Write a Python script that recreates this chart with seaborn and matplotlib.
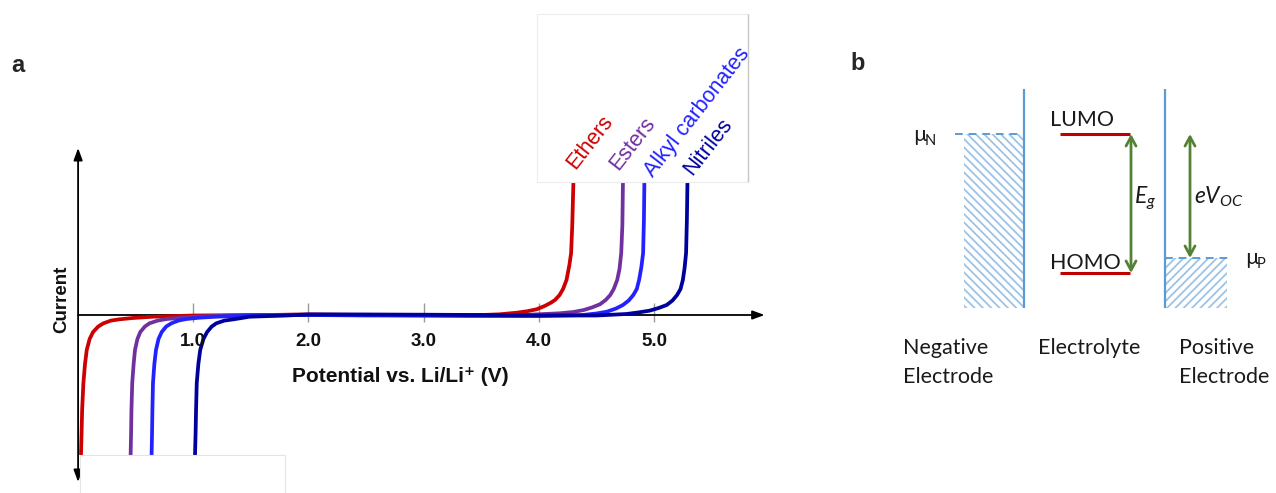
import matplotlib
matplotlib.use("Agg")
import matplotlib.pyplot as plt
import seaborn as sns
import pandas as pd
from matplotlib.patches import Rectangle

# ---------------- data (panel a) ----------------
ethers_V = [0.025, 0.03, 0.035, 0.046, 0.06, 0.075, 0.10, 0.13, 0.175, 0.22, 0.285, 0.36, 0.475, 0.65, 1.0,
            1.6, 2.0, 2.5, 3.0, 3.4,
            3.66, 3.81, 3.90, 3.98, 4.05, 4.10, 4.14, 4.18, 4.21, 4.24, 4.265, 4.28, 4.29, 4.30]
ethers_I = [-14, -11.8, -9.5, -6.8, -4.9, -3.5, -2.4, -1.7, -1.15, -0.83, -0.56, -0.43, -0.3, -0.17, -0.05,
            0.0, 0.05, 0.0, -0.05, -0.05,
            0.07, 0.23, 0.38, 0.57, 0.9, 1.2, 1.5, 2.0, 2.6, 3.5, 5.0, 6.2, 9.0, 13.3]

esters_V = [0.456, 0.46, 0.463, 0.47, 0.482, 0.494, 0.515, 0.54, 0.58, 0.62, 0.69, 0.77, 0.89, 1.03, 1.32,
            1.7, 2.0, 2.5, 3.0, 3.5, 3.9,
            4.18, 4.30, 4.39, 4.46, 4.53, 4.58, 4.62, 4.65, 4.68, 4.70, 4.715, 4.725, 4.73]
esters_I = [-14, -11.8, -9.5, -6.8, -4.9, -3.5, -2.4, -1.7, -1.15, -0.83, -0.56, -0.4, -0.27, -0.17, -0.05,
            0.0, 0.05, 0.02, 0.0, -0.03, 0.02,
            0.17, 0.3, 0.5, 0.75, 1.07, 1.5, 2.0, 2.6, 3.5, 4.6, 6.2, 9.0, 13.3]

alkyl_V = [0.638, 0.642, 0.645, 0.65, 0.662, 0.676, 0.698, 0.726, 0.765, 0.81, 0.87, 0.94, 1.05, 1.2, 1.49,
           1.8, 2.0, 2.5, 3.0, 3.5, 4.0,
           4.38, 4.50, 4.59, 4.67, 4.73, 4.78, 4.82, 4.85, 4.87, 4.89, 4.905, 4.912, 4.916]
alkyl_I = [-14, -11.8, -9.5, -6.8, -4.9, -3.5, -2.4, -1.7, -1.15, -0.83, -0.56, -0.4, -0.27, -0.17, -0.05,
           -0.02, 0.0, -0.05, -0.05, -0.1, -0.1,
           0.0, 0.15, 0.33, 0.65, 1.0, 1.45, 2.0, 2.6, 3.5, 4.8, 6.2, 9.5, 13.3]

nitriles_V = [1.015, 1.02, 1.024, 1.03, 1.044, 1.06, 1.088, 1.12, 1.16, 1.2, 1.27, 1.35, 1.42, 1.49, 1.8,
              2.0, 2.5, 3.0, 3.5, 4.0, 4.5,
              4.76, 4.86, 4.96, 5.04, 5.11, 5.16, 5.20, 5.23, 5.25, 5.265, 5.278, 5.285, 5.29]
nitriles_I = [-14, -11.8, -9.5, -6.8, -4.9, -3.5, -2.4, -1.7, -1.15, -0.83, -0.56, -0.43, -0.3, -0.17, -0.05,
              0.05, 0.05, 0.03, 0.0, -0.05, -0.05,
              0.1, 0.25, 0.43, 0.7, 1.0, 1.45, 2.0, 2.6, 3.5, 4.7, 6.2, 9.5, 13.3]

solvents = ["Ethers", "Esters", "Alkyl carbonates", "Nitriles"]
solvent_colors = ["#cc0000", "#7030a0", "#2222ff", "#00009c"]
label_V = [4.315, 4.689, 4.992, 5.331]
label_I = [14.5, 14.4, 13.7, 13.9]

tick_values = [1.0, 2.0, 3.0, 4.0, 5.0]
tick_labels = ["1.0", "2.0", "3.0", "4.0", "5.0"]

# ---------------- data (panel b, schematic energy levels) ----------------
electrode_top = 219
mu_N_level = 174
lumo_level = 174
homo_level = 35
mu_P_level = 50

# ---------------- styling ----------------
sns.set_theme(style="white")
plt.rcParams["font.family"] = ["Liberation Sans", "DejaVu Sans"]
plt.rcParams["lines.solid_capstyle"] = "butt"
plt.rcParams["lines.solid_joinstyle"] = "round"
plt.rcParams["hatch.linewidth"] = 1.3
plt.rcParams["mathtext.fontset"] = "custom"
plt.rcParams["mathtext.it"] = "Lato:italic"
plt.rcParams["mathtext.rm"] = "Lato"

fig = plt.figure(figsize=(12.76, 4.93), dpi=100)

# ---------------- panel a ----------------
ax = fig.add_axes([0, 0, 800 / 1276, 1])
ax.set_xlim(-0.678, 6.267)
ax.set_ylim(-17.8, 31.5)
ax.axis("off")

frames = []
for name, V, I in zip(solvents,
                      [ethers_V, esters_V, alkyl_V, nitriles_V],
                      [ethers_I, esters_I, alkyl_I, nitriles_I]):
    frames.append(pd.DataFrame({"V": V, "I": I, "solvent": name}))
df = pd.concat(frames, ignore_index=True)

# tick marks
ax.vlines(tick_values, -0.7, 1.2, color="#9a9a9a", lw=1.0, zorder=1)

# axes arrows
ax.annotate("", xy=(0, 16.7), xytext=(0, -16.7),
            arrowprops=dict(arrowstyle="<|-|>,head_length=0.6,head_width=0.22",
                            color="black", lw=1.3, shrinkA=0, shrinkB=0), zorder=2)
ax.annotate("", xy=(5.96, 0), xytext=(0, 0),
            arrowprops=dict(arrowstyle="-|>,head_length=0.6,head_width=0.22",
                            color="black", lw=1.3, shrinkA=0, shrinkB=0), zorder=2)

sns.lineplot(data=df, x="V", y="I", hue="solvent", hue_order=solvents,
             palette=dict(zip(solvents, solvent_colors)), sort=False,
             estimator=None, legend=False, linewidth=2.7, ax=ax, zorder=3)

for t, lab in zip(tick_values, tick_labels):
    ax.text(t, -2.7, lab, ha="center", va="center", fontsize=13.5,
            fontweight="bold", color="#111111")

ax.text(2.794, -6.1, "Potential vs. Li/Li\u207a (V)", ha="center", va="center",
        fontsize=15, fontweight="bold", color="#111111")
ax.text(-0.14, 1.6, "Current", rotation=90, ha="center", va="center",
        fontsize=13.5, fontweight="bold", color="#111111")

# white label boxes
ax.add_patch(Rectangle((3.985, 13.3), 1.83, 16.8, facecolor="white",
                       edgecolor="#ececec", lw=0.8, zorder=4))
ax.plot([5.815, 5.815], [13.3, 30.1], color="#c8c8c8", lw=1.0, zorder=4)
ax.add_patch(Rectangle((0.02, -18.5), 1.78, 4.5, facecolor="white",
                       edgecolor="#e4e4e4", lw=0.8, zorder=4))

for name, c, lv, li in zip(solvents, solvent_colors, label_V, label_I):
    ax.text(lv, li, name, rotation=52, rotation_mode="anchor", ha="left",
            va="baseline", fontsize=15.5, color=c, zorder=5)

fig.text(18 / 1276, 1 - 66 / 493, "a", fontsize=17, fontweight="bold",
         ha="center", va="center")

# ---------------- panel b ----------------
bx = fig.add_axes([840 / 1276, 0, 436 / 1276, 1])
bx.set_xlim(840, 1276)
bx.set_ylim(308 - 493, 308)
bx.axis("off")

line_blue = "#5b9bd5"
hatch_blue = "#9dc3e6"
green = "#548235"
red = "#c00000"
txt = "#1a1a1a"
bfont = ["Lato", "DejaVu Sans"]

# negative electrode
bx.add_patch(Rectangle((964, 0), 60, mu_N_level, facecolor="none",
                       edgecolor=hatch_blue, lw=0, hatch="\\\\\\\\"))
bx.plot([1024, 1024], [0, electrode_top], color=line_blue, lw=1.6)
bx.plot([955, 1024], [mu_N_level, mu_N_level], color=line_blue, lw=1.4,
        dashes=(4, 3))

# positive electrode
bx.add_patch(Rectangle((1165, 0), 62, mu_P_level, facecolor="none",
                       edgecolor=hatch_blue, lw=0, hatch="////"))
bx.plot([1165, 1165], [0, electrode_top], color=line_blue, lw=1.6)
bx.plot([1165, 1230], [mu_P_level, mu_P_level], color=line_blue, lw=1.4,
        dashes=(4, 3))

# electrolyte levels
bx.plot([1060, 1130], [lumo_level, lumo_level], color=red, lw=2.2)
bx.plot([1060, 1130], [homo_level, homo_level], color=red, lw=2.2)

arrow_style = "<->,head_length=0.55,head_width=0.3"
bx.annotate("", xy=(1131, homo_level), xytext=(1131, lumo_level),
            arrowprops=dict(arrowstyle=arrow_style, color=green, lw=2.0,
                            shrinkA=0, shrinkB=0))
bx.annotate("", xy=(1190, mu_P_level), xytext=(1190, lumo_level),
            arrowprops=dict(arrowstyle=arrow_style, color=green, lw=2.0,
                            shrinkA=0, shrinkB=0))

fs_b = 15.5
bx.text(1050, lumo_level + 8, "LUMO", fontsize=fs_b, family=bfont, color=txt,
        ha="left", va="baseline")
bx.text(1050, homo_level + 4, "HOMO", fontsize=fs_b, family=bfont, color=txt,
        ha="left", va="baseline")
bx.text(1134, 110, r"$E_g$", fontsize=16.5, color=txt, ha="left", va="center")
bx.text(1194, 111, r"$eV_{OC}$", fontsize=16.5, color=txt, ha="left", va="center")
bx.text(913, mu_N_level - 7, "\u00b5", fontsize=fs_b, family=bfont, color=txt,
        ha="left", va="baseline")
bx.text(925, mu_N_level - 11, "N", fontsize=10.5, family=bfont, color=txt,
        ha="left", va="baseline")
bx.text(1245, mu_P_level - 6, "\u00b5", fontsize=fs_b, family=bfont, color=txt,
        ha="left", va="baseline")
bx.text(1257, mu_P_level - 10, "P", fontsize=10.5, family=bfont, color=txt,
        ha="left", va="baseline")

bx.text(903, -46, "Negative", fontsize=fs_b, family=bfont, color=txt,
        ha="left", va="baseline")
bx.text(903, -75, "Electrode", fontsize=fs_b, family=bfont, color=txt,
        ha="left", va="baseline")
bx.text(1038, -46, "Electrolyte", fontsize=fs_b, family=bfont, color=txt,
        ha="left", va="baseline")
bx.text(1179, -46, "Positive", fontsize=fs_b, family=bfont, color=txt,
        ha="left", va="baseline")
bx.text(1179, -75, "Electrode", fontsize=fs_b, family=bfont, color=txt,
        ha="left", va="baseline")

fig.text(858 / 1276, 1 - 63 / 493, "b", fontsize=17, fontweight="bold",
         ha="center", va="center")

fig.savefig("out.png", dpi=100, facecolor="white")
